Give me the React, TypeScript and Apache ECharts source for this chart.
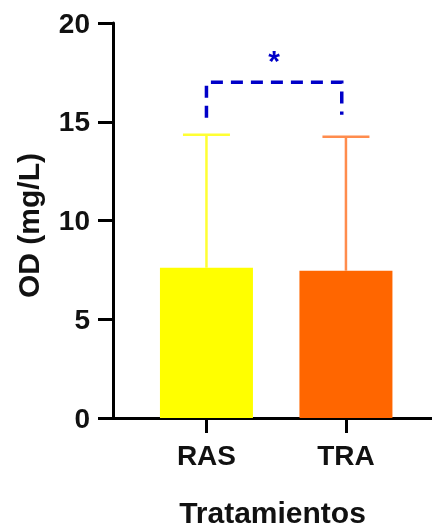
import React, { useEffect, useRef } from "react";
import * as echarts from "echarts";

const categories = ["RAS", "TRA"];
const positions = [1, 2];
const means = [7.61, 7.46];
const errorTops = [14.34, 14.24];
const barColors = ["#ffff00", "#ff6600"];
const errorColors = ["#ffff33", "#ff8c4d"];
const bracketX = [1, 1.97];
const bracketY = [15.2, 17, 17, 15.35];
const sigLabel = "*";
const yTicks = { min: 0, max: 20, interval: 5 };

const FONT = 'Arial, "Liberation Sans", sans-serif';

export default function App() {
  const ref = useRef<HTMLDivElement>(null);
  useEffect(() => {
    if (!ref.current) return;
    const chart = echarts.init(ref.current, null, { renderer: "svg" });
    chart.setOption({
      animation: false,
      grid: { left: 113, right: 0, top: 23, bottom: 111, containLabel: false, outerBoundsMode: "none" },
      xAxis: {
        type: "value",
        min: 0.33,
        max: 2.617,
        name: "Tratamientos",
        nameLocation: "middle",
        nameGap: 79,
        nameTextStyle: { fontSize: 30, fontWeight: "bold", color: "#111", fontFamily: FONT },
        splitLine: { show: false },
        axisLine: { show: true, onZero: false, lineStyle: { color: "#000", width: 3 } },
        axisTick: { show: true, customValues: positions, length: 15, lineStyle: { color: "#000", width: 3 } },
        axisLabel: {
          customValues: positions,
          margin: 23,
          fontSize: 28,
          fontWeight: "bold",
          color: "#111",
          fontFamily: FONT,
          formatter: (v: number) => {
            const i = positions.indexOf(v);
            return i >= 0 ? categories[i] : "";
          },
        },
      },
      yAxis: {
        type: "value",
        min: yTicks.min,
        max: yTicks.max,
        interval: yTicks.interval,
        name: "OD (mg/L)",
        nameLocation: "middle",
        nameGap: 70,
        nameRotate: 90,
        nameTextStyle: {
          fontSize: 30,
          fontWeight: "bold",
          color: "#111",
          fontFamily: FONT,
          padding: [0, 10, 0, 0],
        },
        splitLine: { show: false },
        axisLine: { show: true, lineStyle: { color: "#000", width: 3 } },
        axisTick: { show: true, length: 15, lineStyle: { color: "#000", width: 3 } },
        axisLabel: { margin: 23, fontSize: 28, fontWeight: "bold", color: "#111", fontFamily: FONT },
      },
      series: [
        {
          type: "custom",
          z: 1,
          data: positions.map((p, i) => [p, means[i], errorTops[i], i]),
          renderItem: (params: any, api: any) => {
            const x = api.value(0);
            const top = api.coord([x, api.value(2)]);
            const bot = api.coord([x, api.value(1)]);
            const idx = api.value(3);
            const half = 23.5;
            const style = { stroke: errorColors[idx], lineWidth: 2.5 };
            return {
              type: "group",
              children: [
                { type: "line", shape: { x1: top[0], y1: top[1], x2: bot[0], y2: bot[1] }, style },
                { type: "line", shape: { x1: top[0] - half, y1: top[1], x2: top[0] + half, y2: top[1] }, style },
              ],
            };
          },
        },
        {
          type: "bar",
          z: 2,
          barWidth: 93,
          data: positions.map((p, i) => ({ value: [p, means[i]], itemStyle: { color: barColors[i] } })),
        },
        {
          type: "custom",
          z: 3,
          data: [[bracketX[0], bracketX[1]]],
          renderItem: (params: any, api: any) => {
            const p1 = api.coord([bracketX[0], bracketY[0]]);
            const p2 = api.coord([bracketX[0], bracketY[1]]);
            const p3 = api.coord([bracketX[1], bracketY[2]]);
            const p4 = api.coord([bracketX[1], bracketY[3]]);
            return {
              type: "group",
              children: [
                {
                  type: "polyline",
                  shape: { points: [p1, p2, p3, p4] },
                  style: { stroke: "#0000c8", lineWidth: 3.5, lineDash: [12, 8], fill: null },
                },
                {
                  type: "text",
                  style: {
                    text: sigLabel,
                    x: (p2[0] + p3[0]) / 2,
                    y: p2[1] - 22,
                    align: "center",
                    verticalAlign: "middle",
                    fontSize: 30,
                    fontWeight: "bold",
                    fontFamily: FONT,
                    fill: "#0000c8",
                  },
                },
              ],
            };
          },
        },
      ],
    });
    return () => chart.dispose();
  }, []);
  return <div ref={ref} style={{ position: "fixed", left: 0, top: 0, width: 432, height: 529 }} />;
}
